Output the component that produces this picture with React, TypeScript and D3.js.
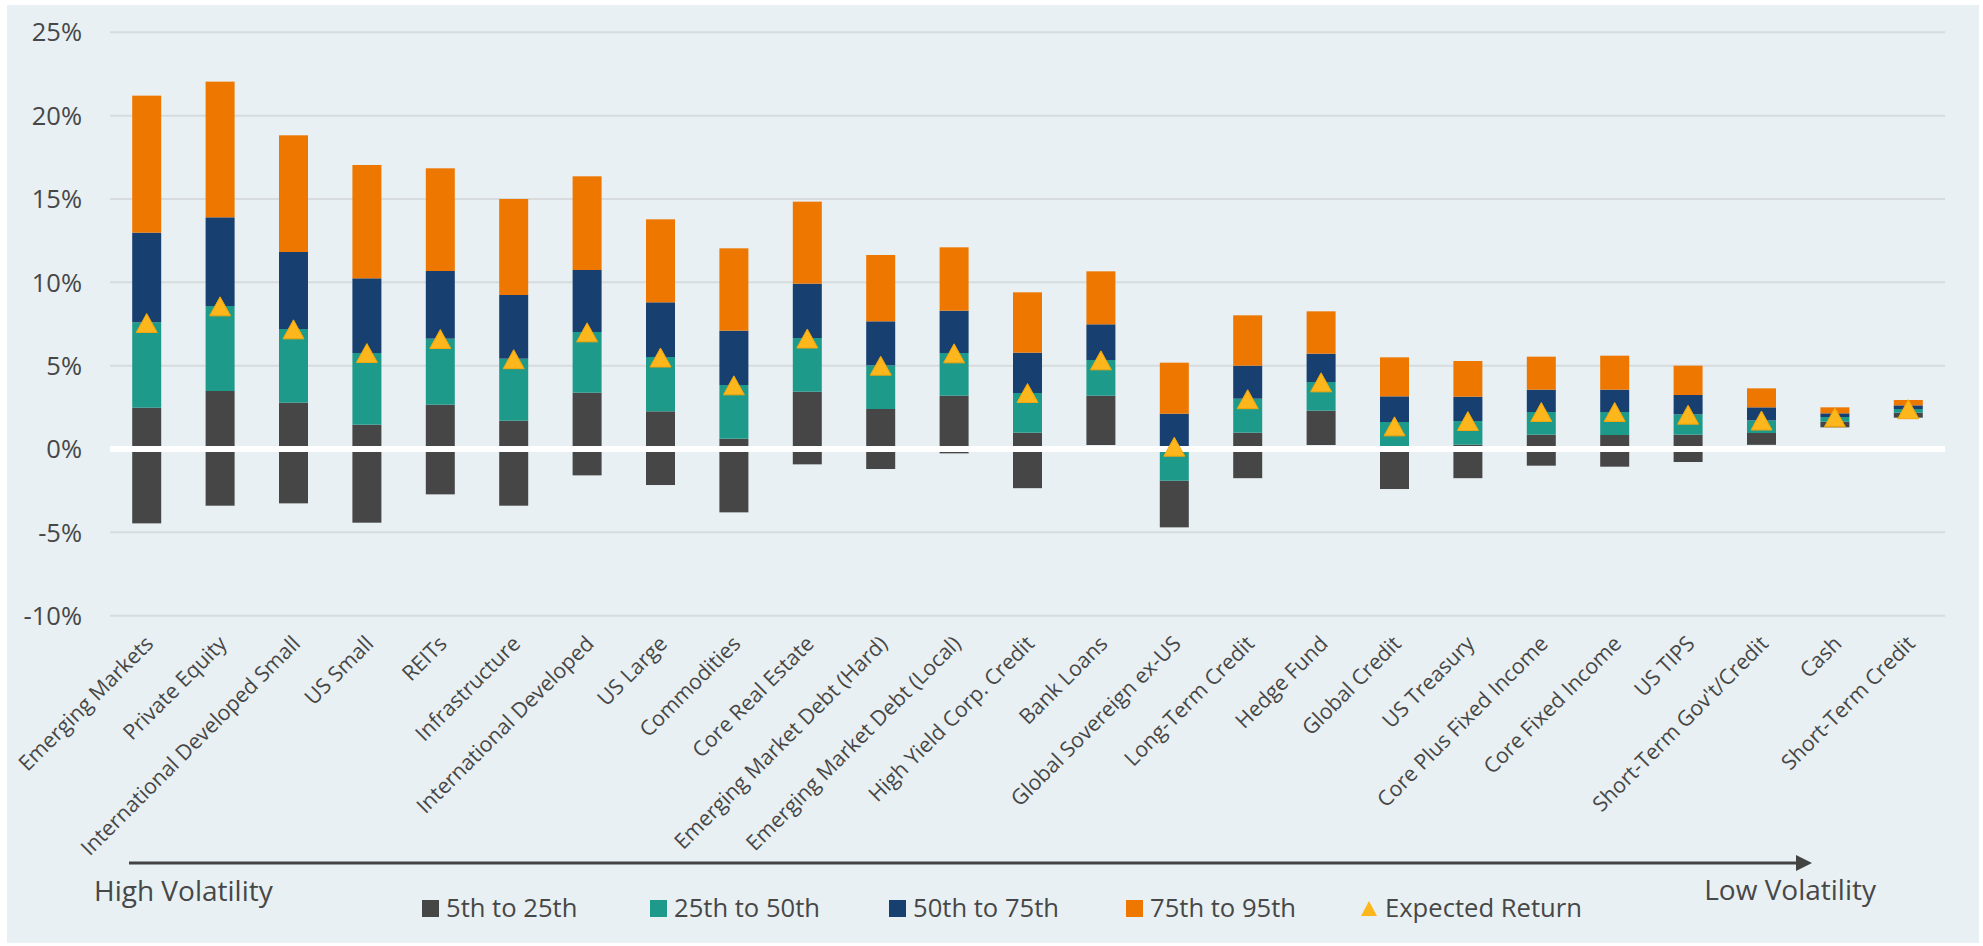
import React from 'react';
import * as d3 from 'd3';

const categories = [
  'Emerging Markets', 'Private Equity', 'International Developed Small', 'US Small', 'REITs',
  'Infrastructure', 'International Developed', 'US Large', 'Commodities', 'Core Real Estate',
  'Emerging Market Debt (Hard)', 'Emerging Market Debt (Local)', 'High Yield Corp. Credit', 'Bank Loans',
  'Global Sovereign ex-US', 'Long-Term Credit', 'Hedge Fund', 'Global Credit', 'US Treasury',
  'Core Plus Fixed Income', 'Core Fixed Income', 'US TIPS', "Short-Term Gov't/Credit", 'Cash', 'Short-Term Credit',
];

const p5 = [-4.46, -3.4, -3.26, -4.42, -2.72, -3.4, -1.58, -2.16, -3.8, -0.92, -1.2, -0.26, -2.35, 0.24, -4.7, -1.75, 0.24, -2.4, -1.75, -1.0, -1.06, -0.78, 0.25, 1.3, 1.88];
const p25 = [2.48, 3.48, 2.78, 1.46, 2.66, 1.7, 3.38, 2.26, 0.62, 3.44, 2.4, 3.2, 0.98, 3.2, -1.9, 0.98, 2.3, 0.0, 0.26, 0.86, 0.84, 0.86, 0.96, 1.64, 2.18];
const p50 = [7.6, 8.58, 7.2, 5.76, 6.62, 5.42, 7.02, 5.52, 3.84, 6.66, 5.02, 5.76, 3.36, 5.34, 0.0, 3.02, 4.02, 1.62, 1.68, 2.22, 2.22, 2.08, 1.72, 1.92, 2.4];
const p75 = [12.98, 13.9, 11.82, 10.24, 10.68, 9.24, 10.74, 8.8, 7.1, 9.92, 7.66, 8.3, 5.78, 7.48, 2.12, 5.0, 5.72, 3.16, 3.14, 3.56, 3.56, 3.24, 2.5, 2.14, 2.62];
const p95 = [21.2, 22.04, 18.82, 17.04, 16.84, 15.0, 16.36, 13.78, 12.04, 14.84, 11.64, 12.1, 9.4, 10.66, 5.18, 8.02, 8.26, 5.5, 5.28, 5.54, 5.6, 5.0, 3.64, 2.5, 2.94];
const expectedReturn = [7.56, 8.56, 7.18, 5.76, 6.6, 5.39, 7.0, 5.49, 3.82, 6.63, 5.0, 5.74, 3.36, 5.32, 0.14, 2.99, 4.0, 1.36, 1.68, 2.22, 2.22, 2.06, 1.71, 1.9, 2.39];

const yTicks = [-10, -5, 0, 5, 10, 15, 20, 25];
const seriesNames = ['5th to 25th', '25th to 50th', '50th to 75th', '75th to 95th'];
const erName = 'Expected Return';
const seriesColors = ['#464646', '#1E9A8A', '#173F70', '#EE7700'];
const erColor = '#FDB61C';
const textColor = '#474747';
const FONT = '"Open Sans", "Noto Sans", sans-serif';

export default function App() {
  const W = 1983;
  const H = 946;
  const plotLeft = 110;
  const plotRight = 1945;

  const x = d3.scaleBand<string>().domain(categories).range([plotLeft, plotRight]).paddingInner(0.605).paddingOuter(0.3025);
  const y = d3.scaleLinear().domain([-10, 25]).range([615.7, 32.3]);
  const bw = x.bandwidth();

  const bounds = categories.map((c, i) => [p5[i], p25[i], p50[i], p75[i], p95[i]]);

  const triW = 21;
  const triH = 19;
  const triPath = `M0,${-triH / 2}L${triW / 2},${triH / 2}L${-triW / 2},${triH / 2}Z`;

  const legendX = [422, 650, 889, 1126, 1361];
  const legendY = 900;

  return (
    <svg width={W} height={H} style={{ position: 'absolute', left: 0, top: 0 }} fontFamily={FONT}>
      <rect x={0} y={0} width={W} height={H} fill="#ffffff" />
      <rect x={7} y={5} width={1972} height={938} fill="#E8F0F3" />

      {/* gridlines */}
      {yTicks.filter((t) => t !== 0).map((t) => (
        <line key={t} x1={plotLeft} x2={plotRight} y1={y(t)} y2={y(t)} stroke="#D7DBDD" strokeWidth={2} />
      ))}

      {/* tick labels */}
      {yTicks.map((t) => (
        <text key={t} x={82} y={y(t)} dy="0.36em" textAnchor="end" fontSize={25.5} fill={textColor}>
          {`${t}%`}
        </text>
      ))}

      {/* bars */}
      {categories.map((c, i) => {
        const b = bounds[i];
        return (
          <g key={c}>
            {seriesNames.map((s, k) => {
              const y0 = y(b[k]);
              const y1 = y(b[k + 1]);
              return (
                <rect key={s} x={x(c)} y={Math.min(y0, y1)} width={bw} height={Math.abs(y0 - y1)} fill={seriesColors[k]} />
              );
            })}
          </g>
        );
      })}

      {/* zero line */}
      <line x1={plotLeft} x2={plotRight} y1={y(0)} y2={y(0)} stroke="#ffffff" strokeWidth={6} />

      {/* expected return markers */}
      {categories.map((c, i) => (
        <path
          key={c}
          d={triPath}
          transform={`translate(${(x(c) as number) + bw / 2},${y(expectedReturn[i])})`}
          fill={erColor}
          stroke="#F2A60C"
          strokeWidth={1}
        />
      ))}

      {/* category labels */}
      {categories.map((c) => (
        <text
          key={c}
          transform={`translate(${(x(c) as number) + bw / 2 + 8},${645}) rotate(-45)`}
          textAnchor="end"
          fontSize={21.3}
          fill={textColor}
        >
          {c}
        </text>
      ))}

      {/* volatility arrow */}
      <line x1={129} x2={1798} y1={863} y2={863} stroke="#434343" strokeWidth={3} />
      <path d="M1796,855L1812,863L1796,871Z" fill="#434343" />
      <text x={94} y={901} fontSize={28} fill={textColor}>High Volatility</text>
      <text x={1876} y={900} fontSize={28} fill={textColor} textAnchor="end">Low Volatility</text>

      {/* legend */}
      {seriesNames.map((s, k) => (
        <g key={s}>
          <rect x={legendX[k]} y={legendY} width={17} height={17} fill={seriesColors[k]} />
          <text x={legendX[k] + 24} y={legendY + 17} fontSize={25.6} fill={textColor}>{s}</text>
        </g>
      ))}
      <path d={`M${legendX[4] + 8},${legendY + 1}L${legendX[4] + 16},${legendY + 16}L${legendX[4]},${legendY + 16}Z`} fill={erColor} />
      <text x={legendX[4] + 24} y={legendY + 17} fontSize={25.6} fill={textColor}>{erName}</text>
    </svg>
  );
}
